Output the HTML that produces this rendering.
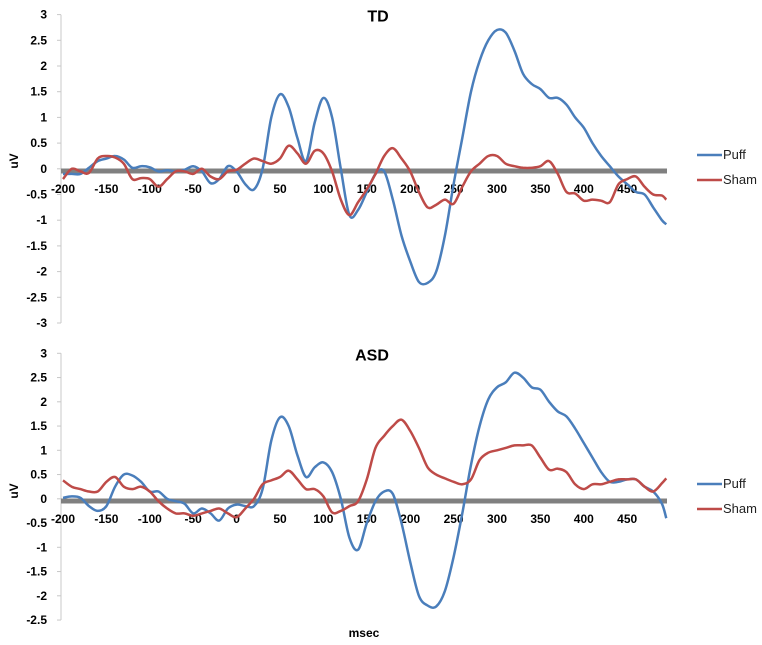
<!DOCTYPE html>
<html><head><meta charset="utf-8"><style>
body{margin:0;background:#fff;}
svg{display:block;font-family:"Liberation Sans",sans-serif;}
</style></head><body>
<svg id="c" width="762" height="645"></svg>
<script>
const times=[-200,-190,-180,-170,-160,-150,-140,-130,-120,-110,-100,-90,-80,-70,-60,-50,-40,-30,-20,-10,0,10,20,30,40,50,60,70,80,90,100,110,120,130,140,150,160,170,180,190,200,210,220,230,240,250,260,270,280,290,300,310,320,330,340,350,360,370,380,390,400,410,420,430,440,450,460,470,480,490,495];
const tdPuff=[-0.1,-0.1,-0.1,0.02,0.15,0.2,0.25,0.18,0.02,0.05,0.03,-0.05,-0.03,-0.05,-0.02,0.05,-0.05,-0.28,-0.2,0.05,-0.05,-0.3,-0.4,0.0,1.0,1.45,1.2,0.6,0.15,0.9,1.38,1.0,0.0,-0.9,-0.8,-0.45,-0.1,-0.05,-0.6,-1.3,-1.8,-2.2,-2.22,-2.0,-1.3,-0.3,0.6,1.5,2.1,2.5,2.7,2.65,2.3,1.85,1.65,1.55,1.38,1.38,1.25,1.0,0.8,0.5,0.25,0.05,-0.15,-0.3,-0.45,-0.5,-0.75,-1.0,-1.08];
const tdSham=[-0.2,0.0,-0.05,-0.08,0.2,0.25,0.22,0.1,-0.2,-0.18,-0.2,-0.35,-0.2,-0.05,-0.05,-0.1,0.0,-0.15,-0.2,-0.05,-0.02,0.1,0.2,0.15,0.1,0.2,0.45,0.3,0.1,0.35,0.3,-0.05,-0.6,-0.9,-0.65,-0.4,-0.1,0.25,0.4,0.2,-0.05,-0.45,-0.75,-0.7,-0.6,-0.68,-0.35,-0.05,0.1,0.25,0.25,0.1,0.05,0.02,0.02,0.05,0.15,-0.1,-0.45,-0.48,-0.62,-0.6,-0.62,-0.65,-0.3,-0.2,-0.15,-0.35,-0.5,-0.52,-0.6];
const asdPuff=[0.02,0.05,0.02,-0.15,-0.25,-0.15,0.25,0.5,0.48,0.35,0.15,0.15,0.0,-0.05,-0.1,-0.3,-0.2,-0.3,-0.45,-0.2,-0.12,-0.15,-0.15,0.2,1.2,1.68,1.5,0.9,0.45,0.65,0.75,0.55,0.0,-0.8,-1.05,-0.5,-0.05,0.15,0.1,-0.5,-1.3,-2.0,-2.2,-2.22,-1.9,-1.2,-0.3,0.7,1.5,2.05,2.3,2.4,2.6,2.5,2.3,2.25,2.0,1.8,1.7,1.45,1.15,0.85,0.55,0.35,0.35,0.4,0.4,0.25,0.15,-0.1,-0.4];
const asdSham=[0.38,0.25,0.2,0.15,0.15,0.35,0.45,0.25,0.2,0.25,0.15,-0.05,-0.2,-0.3,-0.3,-0.35,-0.3,-0.25,-0.2,-0.3,-0.38,-0.2,0.0,0.3,0.38,0.45,0.58,0.4,0.2,0.2,0.05,-0.28,-0.25,-0.15,-0.05,0.4,1.05,1.3,1.5,1.63,1.4,1.05,0.65,0.5,0.42,0.35,0.3,0.4,0.8,0.95,1.0,1.05,1.1,1.1,1.1,0.85,0.6,0.62,0.55,0.3,0.2,0.3,0.3,0.35,0.4,0.4,0.4,0.25,0.15,0.32,0.42];
const xTicks=[-200,-150,-100,-50,0,50,100,150,200,250,300,350,400,450];
const tdYTicks=[3,2.5,2,1.5,1,0.5,0,-0.5,-1,-1.5,-2,-2.5,-3];
const asdYTicks=[3,2.5,2,1.5,1,0.5,0,-0.5,-1,-1.5,-2,-2.5];

const NS="http://www.w3.org/2000/svg";
const svg=document.getElementById('c');
function mk(tag,attrs,parent){const e=document.createElementNS(NS,tag);for(const k in attrs)e.setAttribute(k,attrs[k]);(parent||svg).appendChild(e);return e;}
const xS=t=>236.6+t*0.868;
function smooth(pts){let d=`M${pts[0][0]},${pts[0][1]}`;for(let i=0;i<pts.length-1;i++){const p0=pts[Math.max(0,i-1)],p1=pts[i],p2=pts[i+1],p3=pts[Math.min(pts.length-1,i+2)];const c1=[p1[0]+(p2[0]-p0[0])/6,p1[1]+(p2[1]-p0[1])/6],c2=[p2[0]-(p3[0]-p1[0])/6,p2[1]-(p3[1]-p1[1])/6];d+=`C${c1[0].toFixed(1)},${c1[1].toFixed(1)} ${c2[0].toFixed(1)},${c2[1].toFixed(1)} ${p2[0].toFixed(1)},${p2[1].toFixed(1)}`;}return d;}

function panel(name,title,titleX,y0,pxPer,yTicks,yTop,yBot,bandY,puff,sham,legY){
  const g=mk('g',{});
  
  
  const yS=v=>y0-v*pxPer;
  const ax=mk('line',{x1:61,x2:61,y1:yTop,y2:yBot,stroke:'#c8c8c8','stroke-width':1},g);
  
  
  yTicks.forEach(v=>{
    mk('line',{x1:57,x2:61,y1:yS(v),y2:yS(v),stroke:'#c8c8c8'},g);
    const t=mk('text',{x:47,y:yS(v)+4,'text-anchor':'end','font-size':12,'font-weight':'bold',fill:'#000'},g);
    t.textContent=v;
    
    
  });
  const band=mk('line',{x1:61,x2:667,y1:bandY,y2:bandY,stroke:'#808080','stroke-width':5},g);
  
  
  xTicks.forEach(v=>{
    const t=mk('text',{x:xS(v),y:bandY+22,'text-anchor':'middle','font-size':12,'font-weight':'bold',fill:'#000'},g);
    t.textContent=v;
    
    
  });
  const tt=mk('text',{x:titleX,y:yTop+7,'text-anchor':'middle','font-size':16,'font-weight':'bold'},g);
  tt.textContent=title;
  
  
  const ul=mk('text',{x:0,y:0,transform:`translate(18,${bandY-10}) rotate(-90)`,'text-anchor':'middle','font-size':12,'font-weight':'bold'},g);
  ul.textContent='uV';
  
  
  const pp=mk('path',{d:smooth(times.map((t,i)=>[xS(t),yS(puff[i])])),fill:'none',stroke:'#4a7ebb','stroke-width':2.5},g);
  
  
  const sp=mk('path',{d:smooth(times.map((t,i)=>[xS(t),yS(sham[i])])),fill:'none',stroke:'#be4b48','stroke-width':2.5},g);
  
  
  [['Puff','#4a7ebb',legY],['Sham','#be4b48',legY+25]].forEach(([lab,col,ly])=>{
    const lg=mk('g',{},g);
    
    
    mk('line',{x1:697,x2:722,y1:ly,y2:ly,stroke:col,'stroke-width':2.5},lg);
    const t=mk('text',{x:723,y:ly+4,'font-size':13,fill:'#222'},lg);
    t.textContent=lab;
  });
}
panel('td','TD',378,168.8,51.4,tdYTicks,14.7,323,171,tdPuff,tdSham,155);
panel('asd','ASD',372,498.8,48.5,asdYTicks,353.3,620,501,asdPuff,asdSham,484);
const ms=mk('text',{x:364,y:637,'text-anchor':'middle','font-size':12,'font-weight':'bold'});
ms.textContent='msec';


</script>
</body></html>
